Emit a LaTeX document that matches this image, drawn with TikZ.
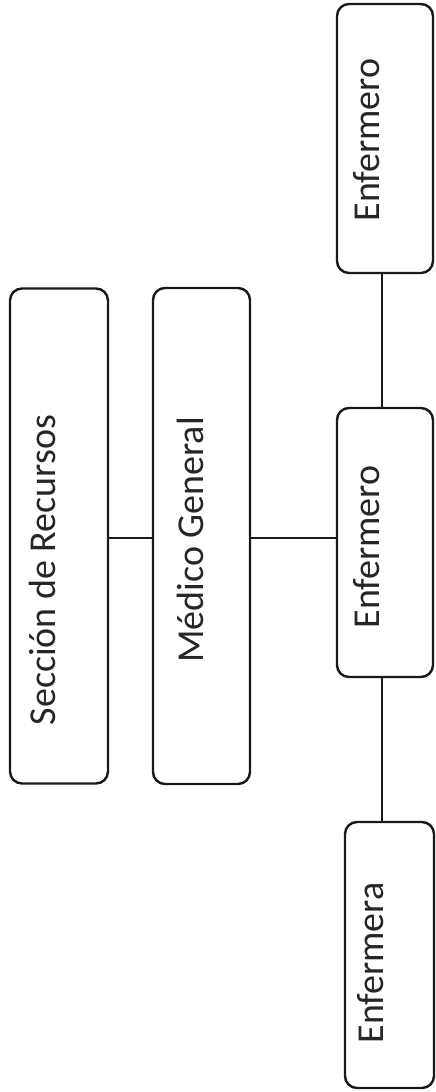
\documentclass[tikz,border=0pt]{standalone}
\usepackage{fontspec}
\setmainfont{Carlito}
\begin{document}
\begin{tikzpicture}[x=1pt,y=-1pt,
  box/.style={draw=black!90, line width=2.4pt, rounded corners=12pt, fill=white, inner sep=0pt},
  conn/.style={draw=black!90, line width=2.2pt},
  lbl/.style={rotate=90, anchor=base, inner sep=0pt, text=black!85, font=\fontsize{38}{42}\selectfont}]
\useasboundingbox (0,0) rectangle (436,1092);
% boxes
\node[box, minimum width=98pt, minimum height=495pt] (sec) at (59,536) {};
\node[box, minimum width=97pt, minimum height=496pt] (med) at (201.5,536) {};
\node[box, minimum width=96pt, minimum height=269pt] (enfT) at (385,138.5) {};
\node[box, minimum width=96pt, minimum height=269pt] (enfM) at (385,542.5) {};
\node[box, minimum width=89pt, minimum height=266pt] (enfB) at (389.5,955) {};
% labels
\node[lbl] (tsec) at (55,570) {Sección de Recursos};
\node[lbl] (tmed) at (203,540) {Médico General};
\node[lbl] (tenfT) at (379,140) {Enfermero};
\node[lbl] (tenfM) at (379,547) {Enfermero};
\node[lbl] (tenfB) at (383,963) {Enfermera};
% connectors
\coordinate (c1) at (0,538);
\draw[conn] (sec.east |- c1) -- (med.west |- c1);
\draw[conn] (med.east |- c1) -- (enfM.west |- c1);
\coordinate (c2) at (382,0);
\draw[conn] (enfT.south -| c2) -- (enfM.north -| c2);
\draw[conn] (enfM.south -| c2) -- (enfB.north -| c2);
\end{tikzpicture}
\end{document}
